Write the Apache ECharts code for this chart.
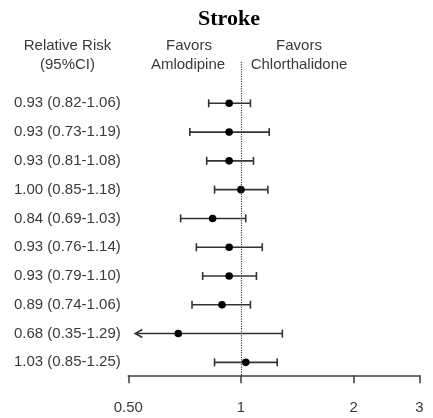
<!DOCTYPE html>
<html><head><meta charset="utf-8">
<script src="https://cdn.jsdelivr.net/npm/echarts@6/dist/echarts.min.js"></script>
<style>html,body{margin:0;padding:0;background:#fff}#c{width:433px;height:418px}</style>
</head><body><div id="c"></div>
<script>
const rr = [0.93,0.93,0.93,1.00,0.84,0.93,0.93,0.89,0.68,1.03];
const lo = [0.82,0.73,0.81,0.85,0.69,0.76,0.79,0.74,0.35,0.85];
const hi = [1.06,1.19,1.08,1.18,1.03,1.14,1.10,1.06,1.29,1.25];
const tickVals = [0.5,1,2,3];
const tickLabels = ['0.50','1','2','3'];
const xMin = 0.5, xMax = 3;

const labels = rr.map((v,i)=>`${v.toFixed(2)} (${lo[i].toFixed(2)}-${hi[i].toFixed(2)})`);
const data = rr.map((v,i)=>[i, v, lo[i], hi[i]]);
const txtColor = '#3a3a3a';
const font = '"Liberation Sans", Arial, sans-serif';

const chart = echarts.init(document.getElementById('c'), null, {renderer:'canvas'});
chart.setOption({
  animation:false,
  title:{text:'Stroke', left:224, top:3, textAlign:'center',
    textStyle:{fontFamily:'"Liberation Serif","Times New Roman",serif', fontWeight:'bold', fontSize:22, color:'#000'}},
  grid:{left:128.3, right:13.5, top:61.7, bottom:42.7},
  xAxis:{type:'log', logBase:10, min:xMin, max:xMax,
    axisLine:{show:true, onZero:false, lineStyle:{color:'#444', width:1.6}},
    axisTick:{show:true, length:8, inside:false, customValues:tickVals, lineStyle:{color:'#444', width:1.6}},
    axisLabel:{customValues:tickVals, margin:25, fontSize:15, fontFamily:font, color:txtColor,
      formatter:(v)=>{const k=tickVals.findIndex(t=>Math.abs(t-v)<1e-6); return k>=0?tickLabels[k]:'';}},
    splitLine:{show:false}, minorTick:{show:false}},
  yAxis:{type:'value', inverse:true, min:-1.445, max:9.45, show:false},
  graphic:[
    {type:'text', x:67.5, y:46, style:{text:'Relative Risk', font:`15px ${font}`, fill:txtColor, align:'center', verticalAlign:'middle'}},
    {type:'text', x:67.5, y:65, style:{text:'(95%CI)', font:`15px ${font}`, fill:txtColor, align:'center', verticalAlign:'middle'}},
    {type:'text', x:189, y:46, style:{text:'Favors', font:`15px ${font}`, fill:txtColor, align:'center', verticalAlign:'middle'}},
    {type:'text', x:188, y:65, style:{text:'Amlodipine', font:`15px ${font}`, fill:txtColor, align:'center', verticalAlign:'middle'}},
    {type:'text', x:299, y:46, style:{text:'Favors', font:`15px ${font}`, fill:txtColor, align:'center', verticalAlign:'middle'}},
    {type:'text', x:299, y:65, style:{text:'Chlorthalidone', font:`15px ${font}`, fill:txtColor, align:'center', verticalAlign:'middle'}}
  ],
  series:[{
    type:'custom', clip:false,
    data:data,
    encode:{x:[1,2,3], y:0},
    renderItem:(params, api)=>{
      const row = api.value(0), v = api.value(1), l = api.value(2), h = api.value(3);
      const pc = api.coord([v,row]);
      const ph = api.coord([h,row]);
      const y = pc[1];
      const stroke = {stroke:'#333', lineWidth:1.6};
      const children = [];
      const cap = 4;
      let lx;
      if (l < xMin) {
        lx = api.coord([xMin,row])[0] + 7;
        children.push({type:'polyline', shape:{points:[[lx+7,y-4],[lx,y],[lx+7,y+4]]}, style:Object.assign({fill:null},stroke)});
      } else {
        lx = api.coord([l,row])[0];
        children.push({type:'line', shape:{x1:lx,y1:y-cap,x2:lx,y2:y+cap}, style:stroke});
      }
      children.push({type:'line', shape:{x1:lx,y1:y,x2:ph[0],y2:y}, style:stroke});
      children.push({type:'line', shape:{x1:ph[0],y1:y-cap,x2:ph[0],y2:y+cap}, style:stroke});
      children.push({type:'circle', shape:{cx:pc[0], cy:y, r:3.8}, style:{fill:'#000'}});
      children.push({type:'text', x:14, y:y, style:{text:labels[params.dataIndex], font:`15px ${font}`, fill:txtColor, align:'left', verticalAlign:'middle'}});
      return {type:'group', children};
    },
    markLine:{silent:true, symbol:'none', label:{show:false},
      lineStyle:{type:'dotted', color:'#444', width:1.2},
      data:[{xAxis:1}]}
  }]
});
</script></body></html>
